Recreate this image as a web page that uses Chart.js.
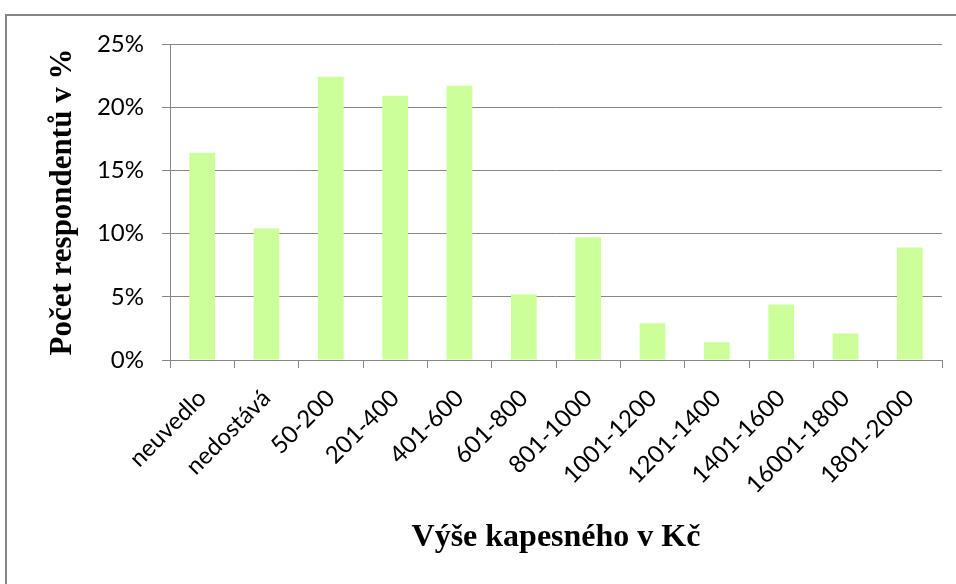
<!DOCTYPE html>
<html>
<head>
<meta charset="utf-8">
<script src="https://cdn.jsdelivr.net/npm/chart.js@4.4.0/dist/chart.umd.min.js"></script>
<style>
  html, body { margin: 0; padding: 0; background: #ffffff; }
  #wrap { position: relative; width: 956px; height: 584px; overflow: hidden; }
  #frame { position: absolute; left: 5px; top: 14px; width: 1000px; height: 1000px; border: 2px solid #868686; box-sizing: border-box; }
  canvas { position: absolute; left: 0; top: 0; }
</style>
</head>
<body>
<div id="wrap">
  <div id="frame"></div>
  <canvas id="c" width="956" height="584"></canvas>
</div>
<script>
const categories = ["neuvedlo", "nedostává", "50-200", "201-400", "401-600", "601-800", "801-1000", "1001-1200", "1201-1400", "1401-1600", "16001-1800", "1801-2000"];
const shares = [16.4, 10.4, 22.4, 20.9, 21.7, 5.2, 9.7, 2.9, 1.4, 4.4, 2.1, 8.9];
const yTicks = [0, 5, 10, 15, 20, 25];
const yTitle = "Počet respondentů v %";
const xTitle = "Výše kapesného v Kč";

const gray = '#868686';
new Chart(document.getElementById('c'), {
  type: 'bar',
  data: {
    labels: categories,
    datasets: [{
      data: shares,
      backgroundColor: '#CCFF99',
      borderWidth: 0,
      categoryPercentage: 1.0,
      barPercentage: 0.4
    }]
  },
  options: {
    responsive: false,
    animation: false,
    devicePixelRatio: 1,
    layout: { padding: { top: 44, right: 14, bottom: 0, left: 0 } },
    plugins: { legend: { display: false }, tooltip: { enabled: false } },
    scales: {
      x: {
        grid: { display: true, drawOnChartArea: false, drawTicks: true, tickLength: 8, color: gray, lineWidth: 1 },
        border: { display: true, color: gray, width: 1 },
        ticks: { color: '#000', font: { family: 'Lato', size: 24 }, minRotation: 45, maxRotation: 45, padding: 16, autoSkip: false },
        title: { display: true, text: xTitle, color: '#000', font: { family: 'Liberation Serif', size: 32, weight: 'bold' }, padding: { top: 0, bottom: 27 } },
        afterFit: (s) => { s.height = 224; }
      },
      y: {
        min: 0, max: 25,
        afterBuildTicks: (s) => { s.ticks = yTicks.map(v => ({ value: v })); },
        grid: { color: gray, lineWidth: 1, drawTicks: true, tickLength: 8 },
        border: { display: true, color: gray, width: 1 },
        ticks: { color: '#000', font: { family: 'Lato', size: 24 }, padding: 18, callback: (v) => v + '%' },
        title: { display: true, text: yTitle, color: '#000', font: { family: 'Liberation Serif', size: 31, weight: 'bold' }, padding: { top: 44, bottom: 0 } },
        afterFit: (s) => { s.width = 170; }
      }
    }
  }
});
</script>
</body>
</html>
